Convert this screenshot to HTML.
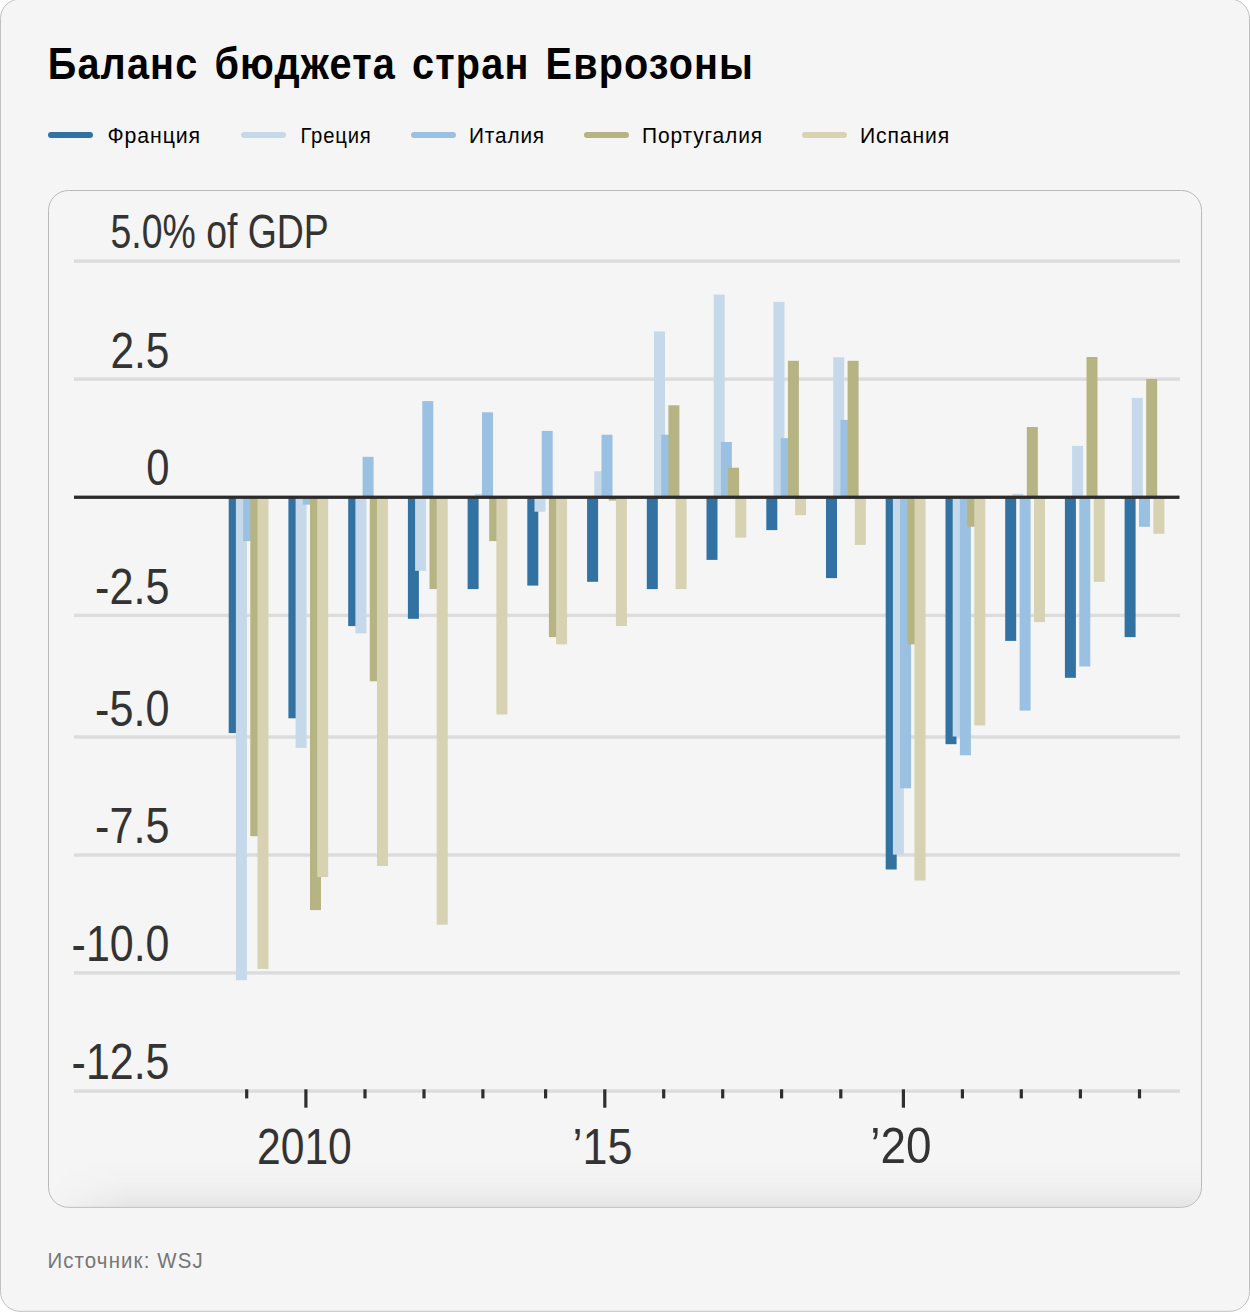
<!DOCTYPE html>
<html><head><meta charset="utf-8"><title>Баланс бюджета стран Еврозоны</title>
<style>
html,body{margin:0;padding:0;background:#fff;overflow:hidden;}
svg{display:block;}
text{font-family:"Liberation Sans",Arial,sans-serif;}
</style></head><body>
<svg width="1250" height="1312" viewBox="0 0 1250 1312">
<defs>
<linearGradient id="shade" x1="0" y1="0" x2="0" y2="1">
<stop offset="0" stop-color="#000" stop-opacity="0"/>
<stop offset="0.45" stop-color="#000" stop-opacity="0.012"/>
<stop offset="0.75" stop-color="#000" stop-opacity="0.035"/>
<stop offset="1" stop-color="#000" stop-opacity="0.065"/>
</linearGradient>
<linearGradient id="hfade" x1="0" y1="0" x2="1" y2="0">
<stop offset="0" stop-color="#fff" stop-opacity="0"/>
<stop offset="0.07" stop-color="#fff" stop-opacity="1"/>
<stop offset="1" stop-color="#fff" stop-opacity="1"/>
</linearGradient>
<mask id="m1"><rect x="48" y="1160" width="1154" height="48" fill="url(#hfade)"/></mask>
<clipPath id="cc"><rect x="49" y="191" width="1152" height="1015.5" rx="19.5"/></clipPath>
</defs>
<rect x="0.5" y="-1" width="1249" height="1312.3" rx="19.5" fill="#f5f5f5" stroke="#c0c0c0"/>
<text x="47.80" y="79.40" font-size="44.59" font-weight="700" letter-spacing="1.3" word-spacing="4.5" textLength="706.30" lengthAdjust="spacingAndGlyphs" fill="#000">Баланс бюджета стран Еврозоны</text>
<rect x="48" y="132" width="45" height="6" rx="3" fill="#3272a3"/><rect x="241" y="132" width="45" height="6" rx="3" fill="#c6d9ea"/><rect x="411" y="132" width="45" height="6" rx="3" fill="#9bc1e2"/><rect x="584" y="132" width="45" height="6" rx="3" fill="#b7b483"/><rect x="802" y="132" width="45" height="6" rx="3" fill="#d6d2b2"/>
<text x="107.50" y="143.00" font-size="21.60" letter-spacing="0.9" textLength="93.50" lengthAdjust="spacingAndGlyphs" fill="#000">Франция</text><text x="300.40" y="143.00" font-size="21.60" letter-spacing="0.9" textLength="71.30" lengthAdjust="spacingAndGlyphs" fill="#000">Греция</text><text x="469.00" y="143.00" font-size="21.60" letter-spacing="0.9" textLength="76.00" lengthAdjust="spacingAndGlyphs" fill="#000">Италия</text><text x="642.00" y="143.00" font-size="21.60" letter-spacing="0.9" textLength="121.00" lengthAdjust="spacingAndGlyphs" fill="#000">Португалия</text><text x="860.00" y="143.00" font-size="21.60" letter-spacing="0.9" textLength="90.00" lengthAdjust="spacingAndGlyphs" fill="#000">Испания</text>
<rect x="48.5" y="190.5" width="1153" height="1016.8" rx="20" fill="#f5f5f5" stroke="#b9b9b9"/>
<g clip-path="url(#cc)"><rect x="49" y="1160" width="1152" height="47" fill="url(#shade)" mask="url(#m1)"/></g>
<rect x="74" y="259.4" width="1106" height="3.4" fill="#dcdcdc"/><rect x="74" y="377.4" width="1106" height="3.4" fill="#dcdcdc"/><rect x="74" y="613.7" width="1106" height="3.4" fill="#dcdcdc"/><rect x="74" y="735.3" width="1106" height="3.4" fill="#dcdcdc"/><rect x="74" y="853.3" width="1106" height="3.4" fill="#dcdcdc"/><rect x="74" y="971.2" width="1106" height="3.4" fill="#dcdcdc"/><rect x="74" y="1089.4" width="1106" height="3.4" fill="#dcdcdc"/>
<g><rect x="228.7" y="497.2" width="11.0" height="235.9" fill="#3272a3"/><rect x="235.9" y="497.2" width="11.0" height="483.0" fill="#c6d9ea"/><rect x="243.1" y="497.2" width="11.0" height="43.9" fill="#9bc1e2"/><rect x="250.3" y="497.2" width="11.0" height="339.0" fill="#b7b483"/><rect x="257.5" y="497.2" width="11.0" height="471.7" fill="#d6d2b2"/><rect x="288.4" y="497.2" width="11.0" height="221.1" fill="#3272a3"/><rect x="295.6" y="497.2" width="11.0" height="250.7" fill="#c6d9ea"/><rect x="302.8" y="497.2" width="11.0" height="7.4" fill="#9bc1e2"/><rect x="310.0" y="497.2" width="11.0" height="412.9" fill="#b7b483"/><rect x="317.2" y="497.2" width="11.0" height="379.9" fill="#d6d2b2"/><rect x="348.2" y="497.2" width="11.0" height="128.9" fill="#3272a3"/><rect x="355.4" y="497.2" width="11.0" height="136.2" fill="#c6d9ea"/><rect x="362.6" y="456.8" width="11.0" height="40.4" fill="#9bc1e2"/><rect x="369.8" y="497.2" width="11.0" height="184.1" fill="#b7b483"/><rect x="377.0" y="497.2" width="11.0" height="368.8" fill="#d6d2b2"/><rect x="407.9" y="497.2" width="11.0" height="121.6" fill="#3272a3"/><rect x="415.1" y="497.2" width="11.0" height="73.6" fill="#c6d9ea"/><rect x="422.3" y="401.1" width="11.0" height="96.1" fill="#9bc1e2"/><rect x="429.5" y="497.2" width="11.0" height="91.9" fill="#b7b483"/><rect x="436.7" y="497.2" width="11.0" height="427.5" fill="#d6d2b2"/><rect x="467.6" y="497.2" width="11.0" height="91.9" fill="#3272a3"/><rect x="474.8" y="493.9" width="11.0" height="3.3" fill="#c6d9ea"/><rect x="482.0" y="412.3" width="11.0" height="84.9" fill="#9bc1e2"/><rect x="489.2" y="497.2" width="11.0" height="43.9" fill="#b7b483"/><rect x="496.4" y="497.2" width="11.0" height="217.3" fill="#d6d2b2"/><rect x="527.3" y="497.2" width="11.0" height="88.4" fill="#3272a3"/><rect x="534.5" y="497.2" width="11.0" height="14.5" fill="#c6d9ea"/><rect x="541.7" y="430.9" width="11.0" height="66.3" fill="#9bc1e2"/><rect x="548.9" y="497.2" width="11.0" height="139.9" fill="#b7b483"/><rect x="556.1" y="497.2" width="11.0" height="147.2" fill="#d6d2b2"/><rect x="587.1" y="497.2" width="11.0" height="84.6" fill="#3272a3"/><rect x="594.3" y="471.2" width="11.0" height="26.0" fill="#c6d9ea"/><rect x="601.5" y="434.7" width="11.0" height="62.5" fill="#9bc1e2"/><rect x="608.7" y="497.2" width="11.0" height="3.4" fill="#b7b483"/><rect x="615.9" y="497.2" width="11.0" height="128.8" fill="#d6d2b2"/><rect x="646.8" y="497.2" width="11.0" height="91.9" fill="#3272a3"/><rect x="654.0" y="331.4" width="11.0" height="165.8" fill="#c6d9ea"/><rect x="661.2" y="434.7" width="11.0" height="62.5" fill="#9bc1e2"/><rect x="668.4" y="405.3" width="11.0" height="91.9" fill="#b7b483"/><rect x="675.6" y="497.2" width="11.0" height="91.9" fill="#d6d2b2"/><rect x="706.5" y="497.2" width="11.0" height="62.7" fill="#3272a3"/><rect x="713.7" y="294.6" width="11.0" height="202.6" fill="#c6d9ea"/><rect x="720.9" y="442.0" width="11.0" height="55.2" fill="#9bc1e2"/><rect x="728.1" y="467.7" width="11.0" height="29.5" fill="#b7b483"/><rect x="735.3" y="497.2" width="11.0" height="40.4" fill="#d6d2b2"/><rect x="766.3" y="497.2" width="11.0" height="32.9" fill="#3272a3"/><rect x="773.5" y="301.9" width="11.0" height="195.3" fill="#c6d9ea"/><rect x="780.7" y="438.2" width="11.0" height="59.0" fill="#9bc1e2"/><rect x="787.9" y="360.8" width="11.0" height="136.4" fill="#b7b483"/><rect x="795.1" y="497.2" width="11.0" height="18.0" fill="#d6d2b2"/><rect x="826.0" y="497.2" width="11.0" height="80.9" fill="#3272a3"/><rect x="833.2" y="357.3" width="11.0" height="139.9" fill="#c6d9ea"/><rect x="840.4" y="419.9" width="11.0" height="77.3" fill="#9bc1e2"/><rect x="847.6" y="360.8" width="11.0" height="136.4" fill="#b7b483"/><rect x="854.8" y="497.2" width="11.0" height="47.7" fill="#d6d2b2"/><rect x="885.7" y="497.2" width="11.0" height="372.3" fill="#3272a3"/><rect x="892.9" y="497.2" width="11.0" height="357.4" fill="#c6d9ea"/><rect x="900.1" y="497.2" width="11.0" height="291.1" fill="#9bc1e2"/><rect x="907.3" y="497.2" width="11.0" height="147.2" fill="#b7b483"/><rect x="914.5" y="497.2" width="11.0" height="383.3" fill="#d6d2b2"/><rect x="945.5" y="497.2" width="11.0" height="247.0" fill="#3272a3"/><rect x="952.7" y="497.2" width="11.0" height="239.3" fill="#c6d9ea"/><rect x="959.9" y="497.2" width="11.0" height="258.1" fill="#9bc1e2"/><rect x="967.1" y="497.2" width="11.0" height="29.5" fill="#b7b483"/><rect x="974.3" y="497.2" width="11.0" height="228.3" fill="#d6d2b2"/><rect x="1005.2" y="497.2" width="11.0" height="143.7" fill="#3272a3"/><rect x="1012.4" y="493.8" width="11.0" height="3.4" fill="#c6d9ea"/><rect x="1019.6" y="497.2" width="11.0" height="213.4" fill="#9bc1e2"/><rect x="1026.8" y="427.0" width="11.0" height="70.2" fill="#b7b483"/><rect x="1034.0" y="497.2" width="11.0" height="124.9" fill="#d6d2b2"/><rect x="1064.9" y="497.2" width="11.0" height="180.6" fill="#3272a3"/><rect x="1072.1" y="445.9" width="11.0" height="51.3" fill="#c6d9ea"/><rect x="1079.3" y="497.2" width="11.0" height="169.3" fill="#9bc1e2"/><rect x="1086.5" y="357.0" width="11.0" height="140.2" fill="#b7b483"/><rect x="1093.7" y="497.2" width="11.0" height="84.6" fill="#d6d2b2"/><rect x="1124.6" y="497.2" width="11.0" height="139.9" fill="#3272a3"/><rect x="1131.8" y="397.9" width="11.0" height="99.3" fill="#c6d9ea"/><rect x="1139.0" y="497.2" width="11.0" height="29.6" fill="#9bc1e2"/><rect x="1146.2" y="379.0" width="11.0" height="118.2" fill="#b7b483"/><rect x="1153.4" y="497.2" width="11.0" height="36.6" fill="#d6d2b2"/></g>
<rect x="74" y="495.6" width="1105.5" height="3.3" fill="#2b2b2b"/>
<rect x="245.1" y="1089.3" width="3.2" height="9.1" fill="#2e2e2e"/><rect x="304.3" y="1089.3" width="3.2" height="18.4" fill="#2e2e2e"/><rect x="363.4" y="1089.3" width="3.2" height="9.1" fill="#2e2e2e"/><rect x="422.4" y="1089.3" width="3.2" height="9.1" fill="#2e2e2e"/><rect x="481.3" y="1089.3" width="3.2" height="9.1" fill="#2e2e2e"/><rect x="544.0" y="1089.3" width="3.2" height="9.1" fill="#2e2e2e"/><rect x="603.2" y="1089.3" width="3.2" height="18.4" fill="#2e2e2e"/><rect x="662.1" y="1089.3" width="3.2" height="9.1" fill="#2e2e2e"/><rect x="721.1" y="1089.3" width="3.2" height="9.1" fill="#2e2e2e"/><rect x="780.0" y="1089.3" width="3.2" height="9.1" fill="#2e2e2e"/><rect x="839.2" y="1089.3" width="3.2" height="9.1" fill="#2e2e2e"/><rect x="901.8" y="1089.3" width="3.2" height="18.4" fill="#2e2e2e"/><rect x="960.8" y="1089.3" width="3.2" height="9.1" fill="#2e2e2e"/><rect x="1019.7" y="1089.3" width="3.2" height="9.1" fill="#2e2e2e"/><rect x="1078.8" y="1089.3" width="3.2" height="9.1" fill="#2e2e2e"/><rect x="1137.9" y="1089.3" width="3.2" height="9.1" fill="#2e2e2e"/>
<text x="110.50" y="248.00" font-size="48.00" textLength="218.30" lengthAdjust="spacingAndGlyphs" fill="#333">5.0% of GDP</text><text x="110.40" y="367.50" font-size="50.50" textLength="59.10" lengthAdjust="spacingAndGlyphs" fill="#333">2.5</text><text x="146.30" y="484.80" font-size="50.50" textLength="23.20" lengthAdjust="spacingAndGlyphs" fill="#333">0</text><text x="95.10" y="603.80" font-size="50.50" textLength="74.40" lengthAdjust="spacingAndGlyphs" fill="#333">-2.5</text><text x="95.10" y="726.00" font-size="50.50" textLength="74.40" lengthAdjust="spacingAndGlyphs" fill="#333">-5.0</text><text x="95.10" y="843.00" font-size="50.50" textLength="74.40" lengthAdjust="spacingAndGlyphs" fill="#333">-7.5</text><text x="71.60" y="960.90" font-size="50.50" textLength="97.90" lengthAdjust="spacingAndGlyphs" fill="#333">-10.0</text><text x="71.60" y="1079.30" font-size="50.50" textLength="97.90" lengthAdjust="spacingAndGlyphs" fill="#333">-12.5</text><text x="257.00" y="1164.20" font-size="50.50" textLength="94.80" lengthAdjust="spacingAndGlyphs" fill="#333">2010</text><text x="572.50" y="1163.50" font-size="50.50" textLength="60.00" lengthAdjust="spacingAndGlyphs" fill="#333">’15</text><text x="870.20" y="1163.20" font-size="50.50" textLength="61.30" lengthAdjust="spacingAndGlyphs" fill="#333">’20</text>
<text x="47.40" y="1268.00" font-size="21.30" letter-spacing="1.2" textLength="156.40" lengthAdjust="spacingAndGlyphs" fill="#767676">Источник: WSJ</text>
</svg>
</body></html>
